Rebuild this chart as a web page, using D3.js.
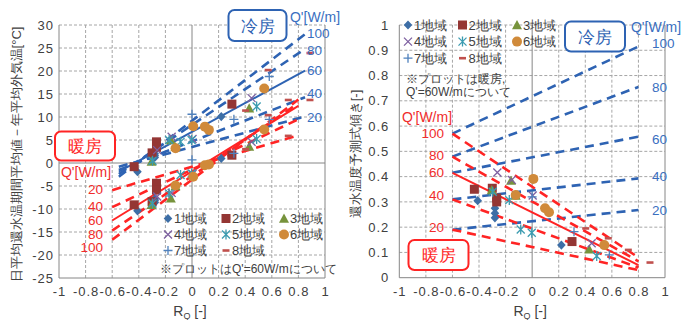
<!DOCTYPE html>
<html>
<head>
<meta charset="utf-8">
<script src="https://cdn.jsdelivr.net/npm/d3@7/dist/d3.min.js"></script>
<style>
  body { margin: 0; background: #fff; }
  svg { display: block; font-family: "Liberation Sans", Arial, sans-serif; }
</style>
</head>
<body>
<div id="chart"></div>
<script>
// ---- data ----
const regionNames = ["1地域", "2地域", "3地域", "4地域", "5地域", "6地域", "7地域", "8地域"];
const markerTypes = ["diamond", "square", "triangle", "times", "asterisk", "circle", "plus", "dash"];
const regionColors = ["#3d6ea6", "#943634", "#77933c", "#7d5fa0", "#3b9bb0", "#d08a3a", "#4f81bd", "#c0504d"];

// R_Q of each plotted city, per region
const rqByRegion = [
  [-0.41, -0.28, -0.28, -0.28, 0.22],
  [-0.435, -0.30, -0.267, -0.267, 0.30],
  [-0.304, -0.159, -0.124, 0.43],
  [-0.262, -0.153, 0.004, 0.448],
  [-0.297, -0.172, -0.086, -0.003, 0.486],
  [-0.124, 0.009, 0.097, 0.127, 0.543],
  [0.0, 0.315, 0.581],
  [0.403, 0.573, 0.724, 0.887]
];
// left chart: cooling (upper) and heating (lower) values, Q'=60W/m
const coolOffset = [
  [-1.9, 1.2, 1.6, 2.0, 10.1],
  [-0.8, 2.2, 4.6, 3.4, 12.8],
  [0.3, 5.0, 3.5, 11.9],
  [2.8, 5.7, 5.2, 14.1],
  [0.5, 5.0, 4.6, 5.0, 12.3],
  [3.2, 8.0, 7.9, 7.2, 16.2],
  [10.6, 9.5, 18.8],
  [11.4, 20.2, 13.7, 23.9]
];
const heatOffset = [
  [-10.4, -8.6, -8.2, -7.8, 1.0],
  [-9.1, -8.4, -4.4, -5.9, 1.7],
  [-9.1, -7.7, -5.0, 3.6],
  [-7.3, -6.5, -2.4, 4.6],
  [-8.8, -6.6, -2.6, -2.3, 5.2],
  [-4.9, -3.0, -0.5, -0.3, 7.3],
  [0.7, 2.1, 9.5],
  [3.0, 10.4, 5.9, 13.7]
];
// right chart: heating slope
const heatSlope = [
  [0.305, 0.275, 0.255, 0.237, 0.129],
  [0.35, 0.354, 0.315, 0.30, 0.143],
  [0.347, 0.384, 0.325, 0.112],
  [0.416, 0.387, 0.325, 0.136],
  [0.340, 0.307, 0.191, 0.178, 0.086],
  [0.327, 0.391, 0.275, 0.259, 0.129],
  [0.32, 0.182, 0.090],
  [0.195, 0.156, 0.11, 0.06]
];

// Q' lines
const qLevels = [20, 40, 60, 80, 100];
const coolRqRange = [-0.55, 0.85];
const heatRqRange = [-0.6, 0.8];
const coolOffsetStart = [-0.8, -1.5, -1.9, -2.4, -3.0];
const coolOffsetEnd = [10.1, 14.3, 20.1, 24.8, 28.0];
const heatOffsetStart = [-5.9, -9.6, -12.5, -14.7, -16.7];
const heatOffsetEnd = [6.0, 9.5, 12.4, 13.0, 13.8];
const slopeStart = [0.19, 0.31, 0.415, 0.479, 0.57];
const coolSlopeEnd = [0.268, 0.393, 0.558, 0.755, 0.915];
const heatSlopeEnd = [0.03, 0.04, 0.05, 0.065, 0.08];

const xTicks = d3.range(-1, 1.001, 0.2).map(d => +d.toFixed(1));
const yTicksL = d3.range(-25, 31, 5);
const yTicksR = d3.range(0, 1.001, 0.1).map(d => +d.toFixed(1));

// ---- drawing ----
const W = 693, H = 320;
const BLUE = "#2e63b3", BLUE_T = "#3a6fbf", RED = "#ff2424", RED_T = "#f02c2c";

const svg = d3.select("#chart").append("svg")
  .attr("width", W).attr("height", H)
  .attr("viewBox", `0 0 ${W} ${H}`);

const fmt = d => String(d);

function panel(x, y, yTicks, yPad) {
  const g = svg.append("g");
  const [x0, x1] = x.range();
  const [y0, y1] = y.range();
  // grid
  g.append("g").selectAll("line").data(xTicks.filter(d => d !== -1 && d !== 0 && d !== 1)).join("line")
    .attr("x1", d => x(d)).attr("x2", d => x(d)).attr("y1", y0).attr("y2", y1)
    .attr("stroke", "#a6a6a6").attr("stroke-dasharray", "3,2");
  g.append("g").selectAll("line").data(yTicks.filter(d => d !== y.domain()[0] && d !== 0)).join("line")
    .attr("x1", x0).attr("x2", x1).attr("y1", d => y(d)).attr("y2", d => y(d))
    .attr("stroke", "#a6a6a6").attr("stroke-dasharray", "3,2");
  // zero lines & frame
  g.append("line").attr("x1", x(0)).attr("x2", x(0)).attr("y1", y0).attr("y2", y1).attr("stroke", "#868686");
  if (y.domain()[0] < 0) g.append("line").attr("x1", x0).attr("x2", x1).attr("y1", y(0)).attr("y2", y(0)).attr("stroke", "#868686");
  g.append("line").attr("x1", x0).attr("x2", x0).attr("y1", y0).attr("y2", y1).attr("stroke", "#868686");
  g.append("line").attr("x1", x1).attr("x2", x1).attr("y1", y0).attr("y2", y1).attr("stroke", "#868686");
  g.append("line").attr("x1", x0).attr("x2", x1).attr("y1", y0).attr("y2", y0).attr("stroke", "#868686");

  const xa = g.append("g").attr("transform", `translate(0,${y0})`)
    .call(d3.axisBottom(x).tickValues(xTicks).tickFormat(fmt).tickSize(0).tickPadding(9));
  const ya = g.append("g").attr("transform", `translate(${x0},0)`)
    .call(d3.axisLeft(y).tickValues(yTicks).tickFormat(fmt).tickSize(0).tickPadding(yPad));
  [xa, ya].forEach(a => {
    a.select(".domain").remove();
    a.selectAll("text").attr("font-size", 13).attr("fill", "#404040")
      .attr("font-family", "Liberation Sans, Arial, sans-serif").attr("letter-spacing", "1px");
  });
  // x label
  const xl = g.append("text").attr("x", (x0 + x1) / 2 - 2).attr("y", 316)
    .attr("text-anchor", "middle").attr("font-size", 14).attr("fill", "#404040");
  xl.append("tspan").text("R");
  xl.append("tspan").attr("font-size", 9).attr("dy", 3).text("Q");
  xl.append("tspan").attr("dy", -3).text(" [-]");
  return g;
}

function marker(g, type, color, px, py) {
  const m = g.append("g").attr("transform", `translate(${px},${py})`);
  if (type === "diamond") m.append("path").attr("d", "M0,-4.6L4.3,0L0,4.6L-4.3,0Z").attr("fill", color);
  else if (type === "square") m.append("rect").attr("x", -4.5).attr("y", -4.5).attr("width", 9).attr("height", 9).attr("fill", color);
  else if (type === "triangle") m.append("path").attr("d", "M0,-5L5,4.2L-5,4.2Z").attr("fill", color);
  else if (type === "circle") m.append("circle").attr("r", 5).attr("fill", color);
  else if (type === "times") m.append("path").attr("d", "M-4,-4L4,4M-4,4L4,-4").attr("stroke", color).attr("stroke-width", 1.3);
  else if (type === "asterisk") m.append("path").attr("d", "M-4,-4L4,4M-4,4L4,-4M0,-5L0,5").attr("stroke", color).attr("stroke-width", 1.3);
  else if (type === "plus") m.append("path").attr("d", "M-4.5,0L4.5,0M0,-4.5L0,4.5").attr("stroke", color).attr("stroke-width", 1.3);
  else if (type === "dash") m.append("path").attr("d", "M-3.5,0L3.5,0").attr("stroke", color).attr("stroke-width", 2.6);
}

function qLines(g, x, y, range, starts, ends, color, solid60) {
  const line = d3.line().x(d => x(d[0])).y(d => y(d[1]));
  qLevels.forEach((q, i) => {
    const solid = solid60 && q === 60;
    g.append("path").attr("d", line([[range[0], starts[i]], [range[1], ends[i]]]))
      .attr("fill", "none").attr("stroke", color)
      .attr("stroke-width", solid ? 2 : 2.6)
      .attr("stroke-dasharray", solid ? null : "9,6");
  });
}

function legend(g, ox, oy, colW, rowH) {
  regionNames.forEach((name, i) => {
    const cx = ox + (i % 3) * colW, cy = oy + Math.floor(i / 3) * rowH;
    marker(g, markerTypes[i], regionColors[i], cx, cy);
    g.append("text").attr("x", cx + 6).attr("y", cy + 4.5).attr("font-size", 13)
      .attr("fill", "#404040").text(name);
  });
}

function box(g, x0, y0, w, h, label, color) {
  g.append("rect").attr("x", x0).attr("y", y0).attr("width", w).attr("height", h)
    .attr("rx", 6).attr("fill", "#fff").attr("stroke", color).attr("stroke-width", 2);
  g.append("text").attr("x", x0 + w / 2).attr("y", y0 + h / 2 + 6).attr("text-anchor", "middle")
    .attr("font-size", 17).attr("fill", color).text(label);
}

// ys are baselines for Q' = 20, 40, 60, 80, 100
function qLabels(g, title, tx, ty, ys, nx, anchor, color) {
  g.append("text").attr("x", tx).attr("y", ty).attr("text-anchor", "middle")
    .attr("font-size", 14).attr("fill", color).text(title);
  qLevels.forEach((q, i) => {
    g.append("text").attr("x", nx).attr("y", ys[i]).attr("text-anchor", anchor)
      .attr("font-size", 13.5).attr("fill", color).text(q);
  });
}

// ---- left chart ----
const xL = d3.scaleLinear().domain([-1, 1]).range([59, 325]);
const yL = d3.scaleLinear().domain([-25, 30]).range([278, 25]);
const gL = panel(xL, yL, yTicksL, 5);

qLines(gL, xL, yL, coolRqRange, coolOffsetStart, coolOffsetEnd, BLUE, true);
qLines(gL, xL, yL, heatRqRange, heatOffsetStart, heatOffsetEnd, RED, true);

rqByRegion.forEach((rqs, r) => {
  rqs.forEach((rq, k) => {
    marker(gL, markerTypes[r], regionColors[r], xL(rq), yL(coolOffset[r][k]));
    marker(gL, markerTypes[r], regionColors[r], xL(rq), yL(heatOffset[r][k]));
  });
});

legend(gL, 168, 218.5, 58, 16);
gL.append("text").attr("x", 160).attr("y", 272.5).attr("font-size", 12).attr("fill", "#404040")
  .text("※プロットはQ'=60W/mについて");

box(gL, 228.5, 10, 58, 31, "冷房", BLUE);
qLabels(gL, "Q'[W/m]", 315, 22, [121.5, 97.5, 75, 55, 38], 307, "start", BLUE_T);
box(gL, 55, 131.5, 60, 29, "暖房", RED);
qLabels(gL, "Q'[W/m]", 86, 176.5, [193.5, 210.5, 225, 238.5, 252], 103, "end", RED_T);

gL.append("text").attr("transform", "translate(21,154.5) rotate(-90)")
  .attr("text-anchor", "middle").attr("font-size", 13).attr("fill", "#404040")
  .text("日平均還水温期間平均値－年平均外気温[°C]");

// ---- right chart ----
const xR = d3.scaleLinear().domain([-1, 1]).range([399.3, 665]);
const yR = d3.scaleLinear().domain([0, 1]).range([277.7, 25]);
const gR = panel(xR, yR, yTicksR, 10);

qLines(gR, xR, yR, heatRqRange, slopeStart, coolSlopeEnd, BLUE, false);
qLines(gR, xR, yR, heatRqRange, slopeStart, heatSlopeEnd, RED, true);

rqByRegion.forEach((rqs, r) => {
  rqs.forEach((rq, k) => marker(gR, markerTypes[r], regionColors[r], xR(rq), yR(heatSlope[r][k])));
});

legend(gR, 408, 25, 54.5, 16.6);
gR.append("text").attr("x", 406).attr("y", 82.5).attr("font-size", 12).attr("fill", "#404040").text("※プロットは暖房,");
gR.append("text").attr("x", 406).attr("y", 96).attr("font-size", 12).attr("fill", "#404040").text("Q'=60W/mについて");

box(gR, 565, 21.5, 60, 30, "冷房", BLUE);
qLabels(gR, "Q'[W/m]", 656, 32, [215, 181, 144, 91.5, 48], 652, "start", BLUE_T);
box(gR, 408.5, 240, 60, 30, "暖房", RED);
qLabels(gR, "Q'[W/m]", 427, 121.5, [232, 200, 176.5, 160, 138], 444, "end", RED_T);

gR.append("text").attr("transform", "translate(360,154) rotate(-90)")
  .attr("text-anchor", "middle").attr("font-size", 13).attr("fill", "#404040")
  .text("還水温度予測式傾き[-]");
</script>
</body>
</html>
